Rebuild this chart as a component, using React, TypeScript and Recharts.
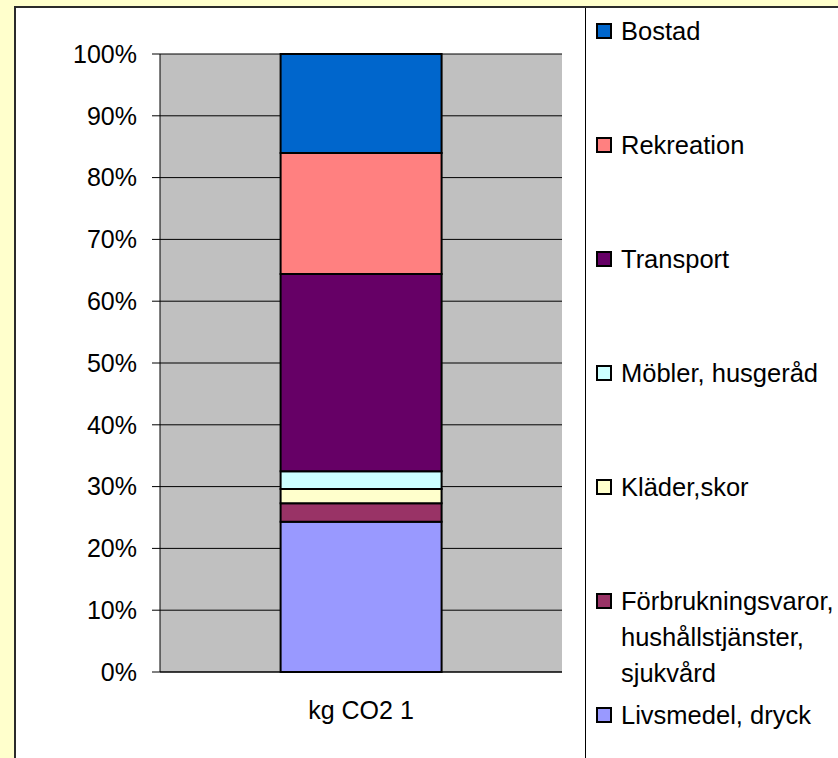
import React from "react";
import { Bar, BarChart, CartesianGrid, Legend, XAxis, YAxis } from "recharts";

const FONT = '"Liberation Sans", Arial, sans-serif';

const categories = ["kg CO2 1"];

// share of kg CO2, bottom to top
const livsmedel = [24.3];
const forbrukning = [3.0];
const klader = [2.3];
const mobler = [2.9];
const transport = [31.9];
const rekreation = [19.6];
const bostad = [16.0];

const percentTicks = [0, 0.1, 0.2, 0.3, 0.4, 0.5, 0.6, 0.7, 0.8, 0.9, 1];

const series = [
  { key: "livsmedel", name: "Livsmedel, dryck", values: livsmedel, color: "#9999FF" },
  {
    key: "forbrukning",
    name: "Förbrukningsvaror, hushållstjänster, sjukvård",
    values: forbrukning,
    color: "#993366",
  },
  { key: "klader", name: "Kläder,skor", values: klader, color: "#FFFFCC" },
  { key: "mobler", name: "Möbler, husgeråd", values: mobler, color: "#CCFFFF" },
  { key: "transport", name: "Transport", values: transport, color: "#660066" },
  { key: "rekreation", name: "Rekreation", values: rekreation, color: "#FF8080" },
  { key: "bostad", name: "Bostad", values: bostad, color: "#0066CC" },
];

const data = categories.map((cat, i) => {
  const row: Record<string, string | number> = { cat };
  series.forEach((s) => {
    row[s.key] = s.values[i];
  });
  return row;
});

// legend lists the stack top-down, like the bar
function SideLegend() {
  const items = [...series].reverse();
  return (
    <div
      style={{
        fontFamily: FONT,
        fontSize: 25.5,
        lineHeight: "36px",
        color: "#000",
      }}
    >
      {items.map((item) => (
        <div
          key={item.key}
          style={{ height: 114, display: "flex", alignItems: "flex-start" }}
        >
          <span
            style={{
              width: 12,
              height: 12,
              border: "2px solid #000",
              background: item.color,
              marginTop: 10,
              marginRight: 9,
              flex: "none",
            }}
          />
          <span>{item.name}</span>
        </div>
      ))}
    </div>
  );
}

export default function App() {
  return (
    <div
      style={{
        position: "fixed",
        left: 0,
        top: 0,
        width: 838,
        height: 758,
        overflow: "hidden",
        background: "#FFFFCC",
      }}
    >
      <div
        style={{
          position: "absolute",
          left: 14,
          top: 6,
          width: 900,
          height: 800,
          background: "#fff",
          borderTop: "2px solid #2b2b2b",
          borderLeft: "2px solid #2b2b2b",
        }}
      />
      <div
        style={{
          position: "absolute",
          left: 585,
          top: 8,
          height: 760,
          borderLeft: "1px solid #000",
        }}
      />
      <div style={{ position: "absolute", left: 0, top: 0 }}>
        <BarChart
          width={838}
          height={758}
          data={data}
          stackOffset="expand"
          barCategoryGap="30%"
          margin={{ top: 54, right: 34, bottom: 46, left: 0 }}
          style={{ fontFamily: FONT }}
        >
          <CartesianGrid vertical={false} stroke="#000" fill="#C0C0C0" fillOpacity={1} />
          <XAxis
            xAxisId="edge"
            type="number"
            domain={[0, 1]}
            ticks={[0, 1]}
            tick={false}
            axisLine={false}
            tickLine={{ stroke: "#000" }}
            tickSize={9}
            height={0}
          />
          <XAxis
            dataKey="cat"
            tickLine={false}
            axisLine={{ stroke: "#000" }}
            tick={{ fill: "#000", fontSize: 25 }}
            tickSize={6}
            tickMargin={23}
            height={40}
          />
          <XAxis
            xAxisId="top"
            orientation="top"
            type="number"
            domain={[0, 1]}
            tick={false}
            tickLine={false}
            axisLine={{ stroke: "#808080" }}
            height={0}
          />
          <YAxis
            domain={[0, 1]}
            ticks={percentTicks}
            tickFormatter={(v: number) => `${Math.round(v * 100)}%`}
            width={160}
            tickSize={8}
            tickMargin={15}
            axisLine={{ stroke: "#000" }}
            tickLine={{ stroke: "#000" }}
            tick={{ fill: "#000", fontSize: 25 }}
          />
          <YAxis
            yAxisId="right"
            orientation="right"
            width={0}
            tick={false}
            tickLine={false}
            axisLine={{ stroke: "#808080" }}
          />
          <Legend
            content={<SideLegend />}
            layout="horizontal"
            verticalAlign="middle"
            align="right"
            wrapperStyle={{ left: 596, top: 12.5, width: 242 }}
          />
          {series.map((s) => (
            <Bar
              key={s.key}
              stackId="a"
              dataKey={s.key}
              name={s.name}
              fill={s.color}
              stroke="#000"
              strokeWidth={2}
              isAnimationActive={false}
            />
          ))}
        </BarChart>
      </div>
    </div>
  );
}
